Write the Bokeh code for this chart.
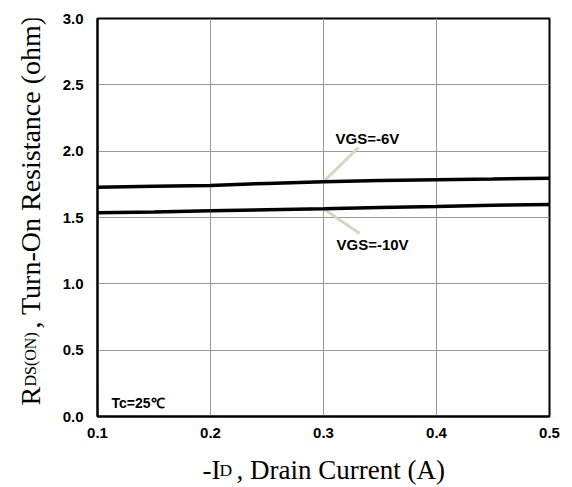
from bokeh.plotting import figure
from bokeh.layouts import row, column
from bokeh.models import Range1d, FixedTicker, Label, NumeralTickFormatter
from bokeh.core.properties import value
from bokeh.embed import file_html
from bokeh.resources import INLINE
import math

# ---- data ----
drain_current = [0.10, 0.15, 0.20, 0.25, 0.30, 0.35, 0.40, 0.45, 0.50]
rds_vgs6 = [1.728, 1.735, 1.742, 1.757, 1.770, 1.778, 1.785, 1.790, 1.796]
rds_vgs10 = [1.535, 1.542, 1.550, 1.558, 1.566, 1.575, 1.583, 1.592, 1.598]
x_ticks = [0.1, 0.2, 0.3, 0.4, 0.5]
y_ticks = [0.0, 0.5, 1.0, 1.5, 2.0, 2.5, 3.0]

label_vgs6 = "VGS=-6V"
label_vgs10 = "VGS=-10V"
label_temp = "Tc=25\u2103"
x_title = ["-I", "D", ", Drain Current (A)"]
y_title = ["R", "DS(ON)", ", Turn-On Resistance (ohm)"]

# leader line positions (annotation layout, data units)
lead6_x = [0.300, 0.331]
lead6_y = [1.770, 2.028]
lead10_x = [0.300, 0.332]
lead10_y = [1.566, 1.379]

# ---------------- main plot ----------------
p = figure(width=524, height=444, output_backend="svg", toolbar_location=None,
           x_range=Range1d(0.1, 0.5), y_range=Range1d(0, 3),
           min_border_left=49, min_border_right=23, min_border_top=18, min_border_bottom=28)
p.background_fill_color = "white"
p.border_fill_color = "white"
p.outline_line_color = "black"
p.outline_line_width = 2

for ax in (p.xaxis, p.yaxis):
    ax.major_tick_out = 0
    ax.major_tick_in = 0
    ax.minor_tick_out = 0
    ax.minor_tick_in = 0
    ax.axis_line_color = "black"
    ax.axis_line_width = 2
    ax.major_label_text_font = "Liberation Sans"
    ax.major_label_text_font_style = "bold"
    ax.major_label_text_font_size = "15px"
    ax.major_label_text_color = "black"
    ax.formatter = NumeralTickFormatter(format="0.0")

p.xaxis.ticker = FixedTicker(ticks=x_ticks)
p.yaxis.ticker = FixedTicker(ticks=y_ticks)
p.xaxis.major_label_standoff = 11
p.yaxis.major_label_standoff = 14

p.xgrid.ticker = FixedTicker(ticks=x_ticks)
p.ygrid.ticker = FixedTicker(ticks=y_ticks)
p.grid.grid_line_color = "#999999"
p.grid.grid_line_width = 1

# leader lines
p.line(lead6_x, lead6_y, line_color="#d9d5c2", line_width=3)
p.line(lead10_x, lead10_y, line_color="#d9d5c2", line_width=3)

# curves
p.line(drain_current, rds_vgs6, line_color="black", line_width=3.5)
p.line(drain_current, rds_vgs10, line_color="black", line_width=3.5)

ann = dict(text_font="Liberation Sans", text_font_style="bold", text_color="black",
           text_baseline="middle", text_align="left")
p.add_layout(Label(x=0.3106, y=2.095, text=label_vgs6, text_font_size="15px", **ann))
p.add_layout(Label(x=0.3115, y=1.296, text=label_vgs10, text_font_size="15px", **ann))
p.add_layout(Label(x=0.1124, y=0.098, text=label_temp, text_font_size="14px", **ann))

# ---------------- y axis title panel ----------------
# its frame is aligned with the main frame (page y 18..416), so use pixel units there
yf = figure(width=48, height=444, output_backend="svg", toolbar_location=None,
            x_range=Range1d(0, 48), y_range=Range1d(0, 398),
            x_axis_type=None, y_axis_type=None, min_border=0)
yf.outline_line_color = None
yf.grid.visible = False
serif = dict(text_font=value("Liberation Serif"), text_color="black",
             text_baseline="alphabetic", text_align="left", angle=math.pi / 2)
yf.text(x=[30], y=[416 - 405], text=[y_title[0]], text_font_size="28px", **serif)
yf.text(x=[30], y=[416 - 386], text=[y_title[1]], text_font_size="16px", **serif)
yf.text(x=[30], y=[416 - 328], text=[y_title[2]], text_font_size="28px", **serif)

# ---------------- x axis title panel ----------------
xf = figure(width=572, height=43, output_backend="svg", toolbar_location=None,
            x_range=Range1d(0, 572), y_range=Range1d(0, 43),
            x_axis_type=None, y_axis_type=None, min_border=0)
xf.outline_line_color = None
xf.grid.visible = False
serif_h = dict(text_font=value("Liberation Serif"), text_color="black",
               text_baseline="alphabetic", text_align="left")
xf.text(x=[202], y=[18], text=[x_title[0]], text_font_size="27px", **serif_h)
xf.text(x=[219], y=[18], text=[x_title[1]], text_font_size="17.5px", **serif_h)
xf.text(x=[236], y=[18], text=[x_title[2]], text_font_size="27px", **serif_h)

layout = column(row(yf, p, spacing=0), xf, spacing=0)
open("out.html", "w").write(file_html(layout, INLINE))
